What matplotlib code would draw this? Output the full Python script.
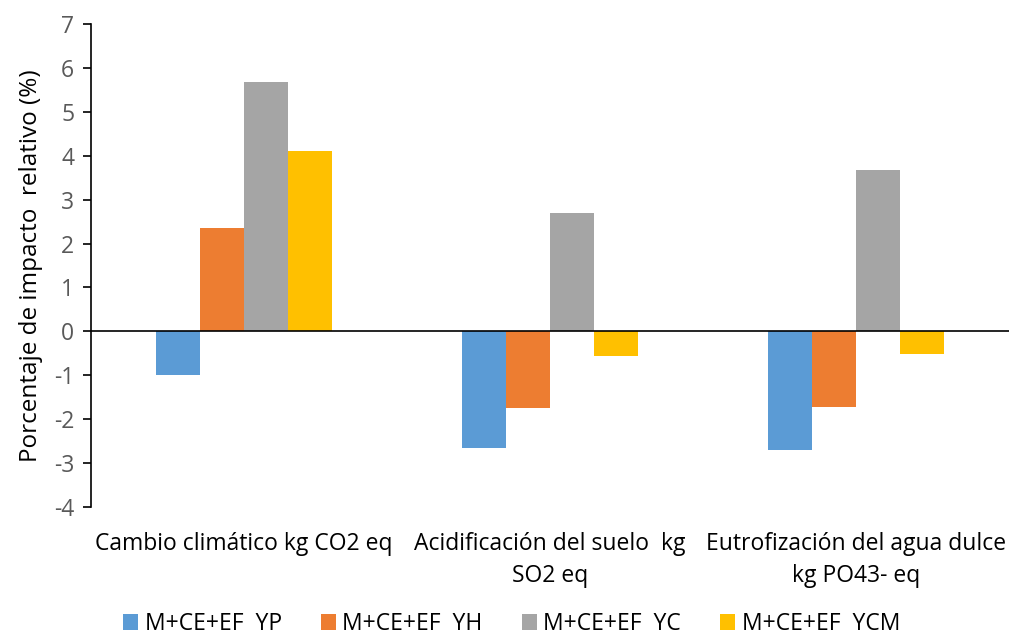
import numpy as np
import matplotlib.pyplot as plt

categorias = ["Cambio climático kg CO2 eq",
              "Acidificación del suelo  kg\nSO2 eq",
              "Eutrofización del agua dulce\nkg PO43- eq"]
series = ["M+CE+EF  YP", "M+CE+EF  YH", "M+CE+EF  YC", "M+CE+EF  YCM"]
yp = [-1.0, -2.65, -2.70]
yh = [2.35, -1.75, -1.72]
yc = [5.68, 2.70, 3.68]
ycm = [4.10, -0.55, -0.52]
colores = ["#5B9BD5", "#ED7D31", "#A5A5A5", "#FFC000"]

plt.rcParams['font.family'] = ['Open Sans', 'DejaVu Sans']
plt.rcParams['axes.unicode_minus'] = False

fig = plt.figure(figsize=(10.13, 6.4), dpi=100)
ax = fig.add_axes([0.0898, 0.2078, 0.9062, 0.7547])

x = np.arange(len(categorias))
w = 0.144
for i, (vals, nombre) in enumerate(zip([yp, yh, yc, ycm], series)):
    ax.bar(x + (i - 1.5) * w, vals, w, color=colores[i], label=nombre)

ax.set_xlim(-0.5, 2.5)
ax.set_ylim(-4, 7)
ax.set_yticks(range(-4, 8))
ax.axhline(0, color="black", lw=1.2)

for s in ["top", "right", "bottom"]:
    ax.spines[s].set_visible(False)
ax.spines["left"].set_linewidth(1.2)
ax.tick_params(axis="y", direction="out", length=6, width=1.2,
               labelsize=16.5, labelcolor="#595959", pad=6)
ax.set_xticks(x)
ax.set_xticklabels(categorias, fontsize=16.5, linespacing=1.45)
ax.tick_params(axis="x", length=0, pad=18)

ax.set_ylabel("Porcentaje de impacto  relativo (%)", fontsize=17.5, labelpad=8)

fig.legend(loc="lower center", bbox_to_anchor=(0.505, -0.026), ncol=4,
           frameon=False, fontsize=16.5, handlelength=0.65, handleheight=0.65,
           columnspacing=1.7, handletextpad=0.3)

fig.savefig("out.png", dpi=100)
